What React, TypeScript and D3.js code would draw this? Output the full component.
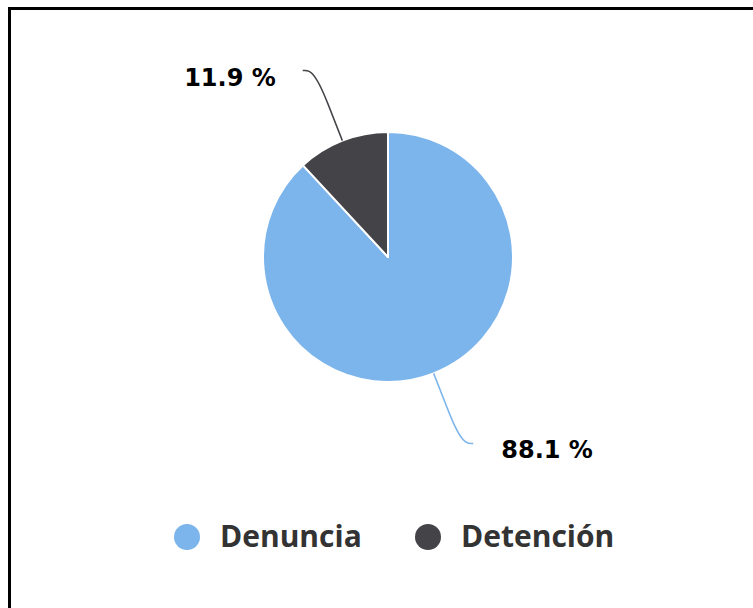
import React from "react";
import * as d3 from "d3";

const categories = ["Denuncia", "Detención"];
const values = [88.1, 11.9];
const colors = ["#7cb5ec", "#434348"];
const labelTexts = ["88.1 %", "11.9 %"];

const W = 753;
const H = 608;

export default function App() {
  const cx = 388;
  const cy = 257;
  const r = 125;
  const pie = d3.pie<number>().sort(null).value((d) => d)(values);
  const arc = d3.arc<d3.PieArcDatum<number>>().innerRadius(0).outerRadius(r);

  const labels = pie.map((p, i) => {
    const mid = (p.startAngle + p.endAngle) / 2;
    const sx = Math.sin(mid);
    const sy = -Math.cos(mid);
    const T = [cx + r * sx, cy + r * sy];
    const B = [cx + (r + 40) * sx, cy + (r + 40) * sy];
    const right = sx > 0;
    const ang = mid - 0.055;
    const P = [cx + 205 * Math.sin(ang), cy - 205 * Math.cos(ang)];
    const c1 = [P[0] + (right ? -5 : 5), P[1]];
    const c2 = [2 * B[0] - T[0], 2 * B[1] - T[1]];
    const path = `M${P[0]},${P[1]} C${c1[0]},${c1[1]} ${c2[0]},${c2[1]} ${B[0]},${B[1]} L${T[0]},${T[1]}`;
    return { path, P, right, i };
  });

  const legendX = [187, 428];

  return (
    <svg
      width={W}
      height={H}
      style={{ position: "absolute", left: 0, top: 0, background: "#fff" }}
    >
      <rect x={9.5} y={8.5} width={800} height={700} fill="#fff" stroke="#000" strokeWidth={3} />
      <g transform={`translate(${cx},${cy})`}>
        {pie.map((p, i) => (
          <path key={i} d={arc(p) || ""} fill={colors[i]} stroke="#fff" strokeWidth={2} strokeLinejoin="round" />
        ))}
      </g>
      {labels.map((l) => (
        <g key={l.i}>
          <path d={l.path} fill="none" stroke={colors[l.i]} strokeWidth={1.5} />
          <text
            x={l.right ? l.P[0] + 28 : l.P[0] - 27}
            y={l.P[1] + 15}
            textAnchor={l.right ? "start" : "end"}
            fontFamily="DejaVu Sans"
            fontWeight="bold"
            fontSize={24}
            fill="#000"
          >
            {labelTexts[l.i]}
          </text>
        </g>
      ))}
      {categories.map((c, i) => (
        <g key={c}>
          <circle cx={legendX[i]} cy={537} r={13} fill={colors[i]} />
          <text
            x={legendX[i] + 33}
            y={547}
            fontFamily="Open Sans"
            fontWeight="bold"
            fontSize={30}
            fill="#333333"
          >
            {c}
          </text>
        </g>
      ))}
    </svg>
  );
}
